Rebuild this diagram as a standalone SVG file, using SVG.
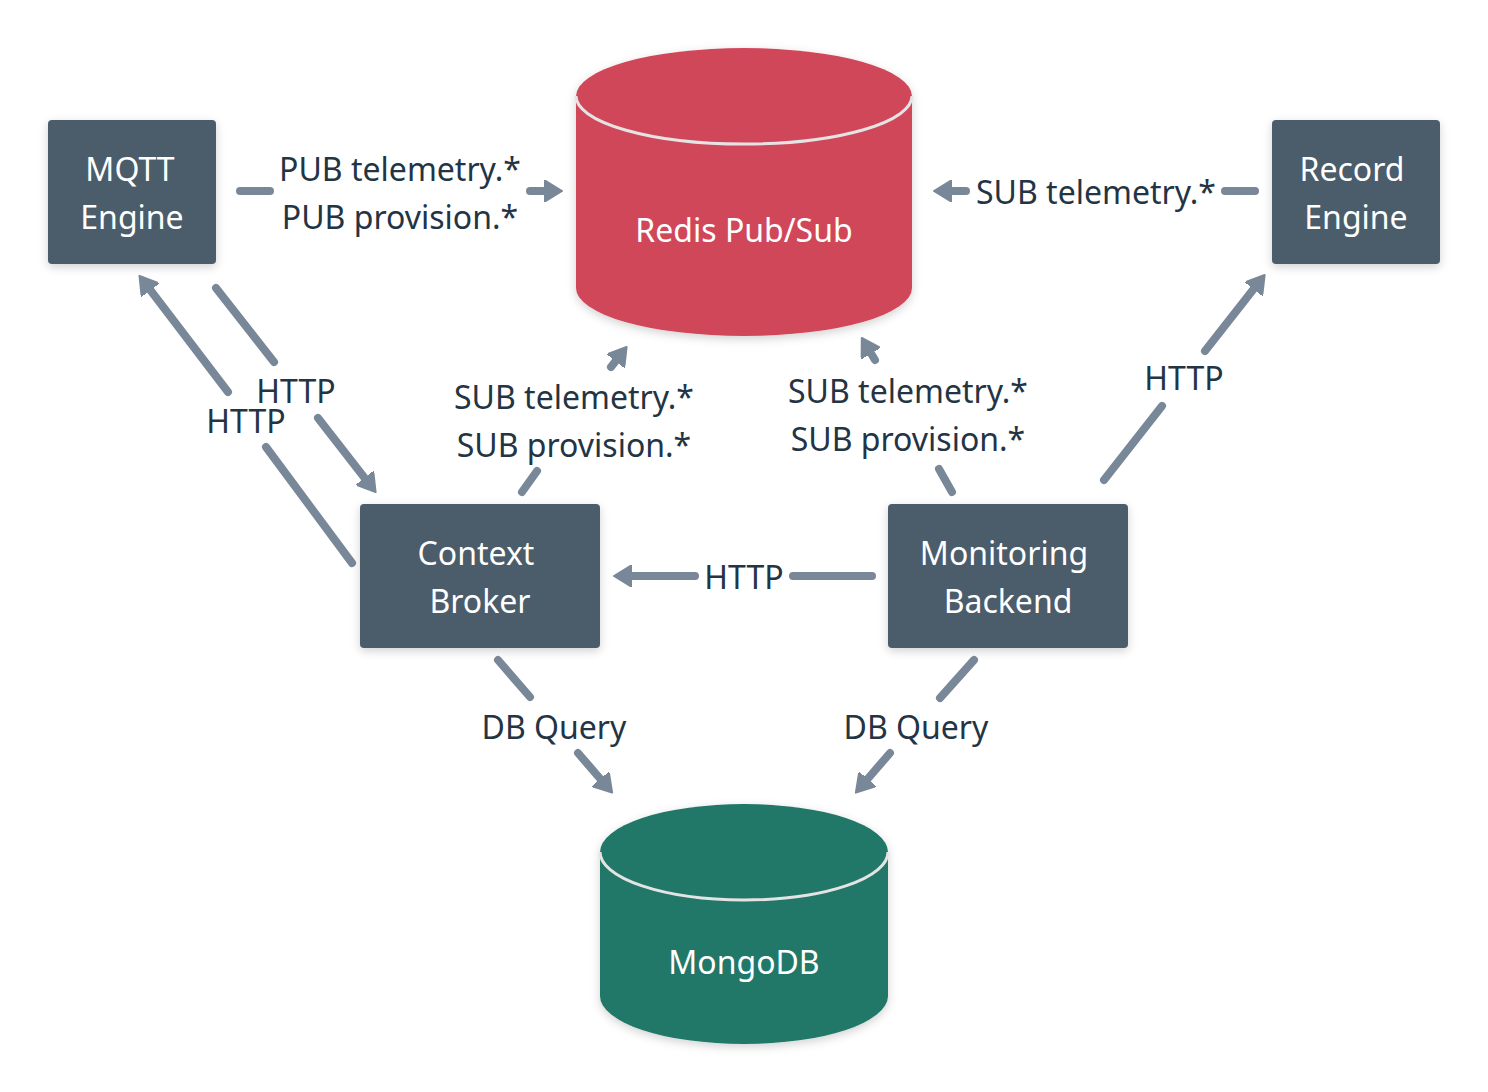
<svg xmlns="http://www.w3.org/2000/svg" width="1488" height="1092" viewBox="0 0 1488 1092">
<defs>
<filter id="sh" x="-20%" y="-20%" width="140%" height="150%">
<feDropShadow dx="0" dy="3" stdDeviation="5" flood-color="#000" flood-opacity="0.18"/>
</filter>
<marker id="ah" viewBox="0 0 20 22" refX="4" refY="11" markerWidth="20" markerHeight="22" markerUnits="userSpaceOnUse" orient="auto">
<path d="M0,0 L18,11 L0,22 Z" fill="#798898" stroke="#798898" stroke-width="2" stroke-linejoin="round"/>
</marker>
<style>
.box{fill:#4b5b6b;filter:url(#sh)}
.nt{fill:#ffffff;font-family:"Noto Sans","DejaVu Sans",sans-serif;font-size:32px;text-anchor:middle;dominant-baseline:central}
.lb{fill:#233445;font-family:"Noto Sans","DejaVu Sans",sans-serif;font-size:32px;text-anchor:middle;dominant-baseline:central}
.ln{fill:none;stroke:#798898;stroke-width:8;stroke-linecap:round}
.hl{fill:none;stroke:#e4e4e4;stroke-width:3}
</style>
</defs>
<rect width="1488" height="1092" fill="#ffffff"/>

<g id="connectors">
<g id="mqtt-redis"><path class="ln" d="M240,191 L270,191"/><path class="ln" d="M530,191 L548,191" marker-end="url(#ah)"/><text class="lb" x="400" y="168">PUB telemetry.*</text><text class="lb" x="400" y="216">PUB provision.*</text></g>
<g id="record-redis"><path class="ln" d="M1255,191 L1225,191"/><path class="ln" d="M966,191 L948,191" marker-end="url(#ah)"/><text class="lb" x="1096" y="191">SUB telemetry.*</text></g>
<g id="monitoring-context"><path class="ln" d="M872,576 L793,576"/><path class="ln" d="M695,576 L628,576" marker-end="url(#ah)"/><text class="lb" x="744" y="576">HTTP</text></g>
<g id="context-redis"><path class="ln" d="M522,492 L537,471"/><path class="ln" d="M611,367 L618,358" marker-end="url(#ah)"/><text class="lb" x="574" y="396">SUB telemetry.*</text><text class="lb" x="574" y="444">SUB provision.*</text></g>
<g id="monitoring-redis"><path class="ln" d="M952,492 L939,469"/><path class="ln" d="M875,360 L869,350" marker-end="url(#ah)"/><text class="lb" x="908" y="390">SUB telemetry.*</text><text class="lb" x="908" y="438">SUB provision.*</text></g>
<g id="monitoring-record"><path class="ln" d="M1104,480 L1162,406"/><path class="ln" d="M1205,351 L1256,286" marker-end="url(#ah)"/><text class="lb" x="1184" y="377">HTTP</text></g>
<g id="context-mqtt"><path class="ln" d="M352,563 L266,447"/><path class="ln" d="M228,392 L148,287" marker-end="url(#ah)"/><text class="lb" x="246" y="420">HTTP</text></g>
<g id="mqtt-context"><path class="ln" d="M216,288 L274,362"/><path class="ln" d="M318,418 L367,481" marker-end="url(#ah)"/><text class="lb" x="296" y="390">HTTP</text></g>
<g id="context-mongo"><path class="ln" d="M498,660 L530,697"/><path class="ln" d="M578,753 L603,782" marker-end="url(#ah)"/><text class="lb" x="554" y="726">DB Query</text></g>
<g id="monitoring-mongo"><path class="ln" d="M974,660 L940,698"/><path class="ln" d="M890,753 L865,782" marker-end="url(#ah)"/><text class="lb" x="916" y="726">DB Query</text></g>
</g>

<g id="redis">
<path d="M576,96 A168,48 0 0 1 912,96 L912,288 A168,48 0 0 1 576,288 Z" fill="#d1465a" filter="url(#sh)"/>
<path class="hl" d="M576,96 A168,48 0 0 0 912,96"/>
<text class="nt" x="744" y="229">Redis Pub/Sub</text>
</g>

<g id="mongodb">
<path d="M600,852 A144,48 0 0 1 888,852 L888,996 A144,48 0 0 1 600,996 Z" fill="#207868" filter="url(#sh)"/>
<path class="hl" d="M600,852 A144,48 0 0 0 888,852"/>
<text class="nt" x="744" y="961">MongoDB</text>
</g>

<g id="mqtt-engine">
<rect class="box" x="48" y="120" width="168" height="144" rx="4"/>
<text class="nt" x="130" y="168">MQTT</text>
<text class="nt" x="132" y="216">Engine</text>
</g>

<g id="record-engine">
<rect class="box" x="1272" y="120" width="168" height="144" rx="4"/>
<text class="nt" x="1352" y="168">Record</text>
<text class="nt" x="1356" y="216">Engine</text>
</g>

<g id="context-broker">
<rect class="box" x="360" y="504" width="240" height="144" rx="4"/>
<text class="nt" x="476" y="552">Context</text>
<text class="nt" x="480" y="600">Broker</text>
</g>

<g id="monitoring-backend">
<rect class="box" x="888" y="504" width="240" height="144" rx="4"/>
<text class="nt" x="1004" y="552">Monitoring</text>
<text class="nt" x="1008" y="600">Backend</text>
</g>
</svg>
